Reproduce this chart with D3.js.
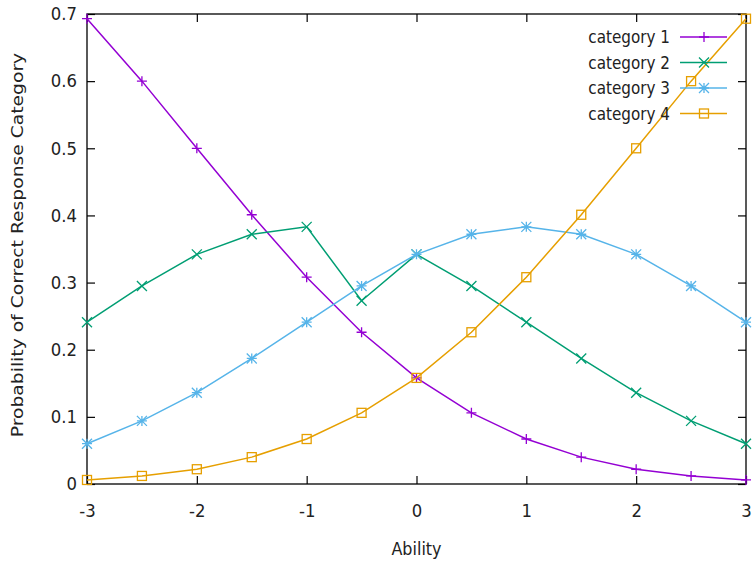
<!DOCTYPE html>
<html>
<head>
<meta charset="utf-8">
<script src="https://cdn.jsdelivr.net/npm/d3@7"></script>
<style>
  body { margin: 0; background: #fff; }
  text { font-family: "DejaVu Sans", sans-serif; fill: #222; }
</style>
</head>
<body>
<svg id="chart"></svg>
<script>
const ability = [-3, -2.5, -2, -1.5, -1, -0.5, 0, 0.5, 1, 1.5, 2, 2.5, 3];
const cat1 = [0.693, 0.600, 0.500, 0.401, 0.308, 0.226, 0.158, 0.106, 0.067, 0.040, 0.022, 0.012, 0.006];
const cat2 = [0.241, 0.295, 0.342, 0.372, 0.383, 0.273, 0.342, 0.295, 0.241, 0.187, 0.136, 0.094, 0.060];
const cat3 = [0.060, 0.094, 0.136, 0.187, 0.241, 0.295, 0.342, 0.372, 0.383, 0.372, 0.342, 0.295, 0.241];
const cat4 = [0.006, 0.012, 0.022, 0.040, 0.067, 0.106, 0.158, 0.226, 0.308, 0.401, 0.500, 0.600, 0.693];
const seriesNames = ['category 1', 'category 2', 'category 3', 'category 4'];
const xTicks = [-3, -2, -1, 0, 1, 2, 3];
const yTicks = [0, 0.1, 0.2, 0.3, 0.4, 0.5, 0.6, 0.7];

const series = [cat1, cat2, cat3, cat4];
const colors = ['#9400d3', '#009e73', '#56b4e9', '#e69f00'];
const markers = ['plus', 'cross', 'star', 'square'];

const svgWidth = 756;
const svgHeight = 565;
const margin = { top: 14, right: 10, bottom: 81, left: 87 };
const width = svgWidth - margin.left - margin.right;
const height = svgHeight - margin.top - margin.bottom;
const stretchY = 1.1;

const x = d3.scaleLinear().domain([-3, 3]).range([0, width]);
const y = d3.scaleLinear().domain([0, 0.7]).range([height, 0]);

const svg = d3.select('#chart')
    .attr('width', svgWidth)
    .attr('height', svgHeight)
    .append('g')
    .attr('transform', `translate(${margin.left}, ${margin.top})`);

// the reference text is a little taller than it is wide
function stretch(sel) {
    sel.each(function () {
        const t = d3.select(this);
        const tx = +t.attr('x') || 0;
        const ty = +t.attr('y') || 0;
        t.attr('x', 0).attr('y', 0)
            .attr('transform', `translate(${tx}, ${ty}) scale(1, ${stretchY})`);
    });
}

svg.append('rect')
    .attr('width', width)
    .attr('height', height)
    .attr('fill', 'none')
    .attr('stroke', '#000')
    .attr('stroke-width', 1.3);

// ticks point inwards, mirrored on top and right
const tickLen = 8;
svg.append('g')
    .attr('transform', `translate(0, ${height})`)
    .call(d3.axisBottom(x).tickValues(xTicks).tickSize(-tickLen).tickPadding(20).tickFormat(d => String(d)))
    .call(g => g.select('.domain').remove())
    .call(g => g.selectAll('text').attr('font-size', 16.5).attr('font-family', '"DejaVu Sans", sans-serif').call(stretch));
svg.append('g')
    .call(d3.axisTop(x).tickValues(xTicks).tickSize(-tickLen).tickFormat(''))
    .call(g => g.select('.domain').remove());
svg.append('g')
    .call(d3.axisLeft(y).tickValues(yTicks).tickSize(-tickLen).tickPadding(10).tickFormat(d => String(d)))
    .call(g => g.select('.domain').remove())
    .call(g => g.selectAll('text').attr('font-size', 16.5).attr('font-family', '"DejaVu Sans", sans-serif').call(stretch));
svg.append('g')
    .attr('transform', `translate(${width}, 0)`)
    .call(d3.axisRight(y).tickValues(yTicks).tickSize(-tickLen).tickFormat(''))
    .call(g => g.select('.domain').remove());
svg.selectAll('.tick line').attr('stroke', '#000').attr('stroke-width', 1.2);

svg.append('text')
    .attr('x', width / 2)
    .attr('y', height + 71)
    .attr('text-anchor', 'middle')
    .attr('font-size', 16)
    .text('Ability')
    .call(stretch);
svg.append('text')
    .attr('transform', `translate(-64, ${height / 2 - 4}) rotate(-90) scale(1.17, 1)`)
    .attr('text-anchor', 'middle')
    .attr('font-size', 16)
    .text('Probability of Correct Response Category');

function drawMarker(g, type, color) {
    const s = 5;
    if (type === 'plus') {
        g.append('path').attr('d', `M${-s},0H${s}M0,${-s}V${s}`);
    } else if (type === 'cross') {
        g.append('path').attr('d', `M${-s},${-s}L${s},${s}M${-s},${s}L${s},${-s}`);
    } else if (type === 'star') {
        g.append('path').attr('d', `M${-s},0H${s}M0,${-s}V${s}M${-s},${-s}L${s},${s}M${-s},${s}L${s},${-s}`);
    } else {
        const q = 4.5;
        g.append('rect').attr('x', -q).attr('y', -q).attr('width', 2 * q).attr('height', 2 * q).attr('fill', 'none');
    }
    g.selectAll('path, rect').attr('stroke', color).attr('stroke-width', 1.3);
}

const line = d3.line().x((d, i) => x(ability[i])).y(d => y(d));

const plot = svg.append('g');
series.forEach((vals, k) => {
    plot.append('path')
        .attr('d', line(vals))
        .attr('fill', 'none')
        .attr('stroke', colors[k])
        .attr('stroke-width', 1.5);
    vals.forEach((v, i) => {
        const g = plot.append('g').attr('transform', `translate(${x(ability[i])}, ${y(v)})`);
        drawMarker(g, markers[k], colors[k]);
    });
});

// legend
const legend = svg.append('g').attr('transform', `translate(${width - 66}, 23)`);
seriesNames.forEach((name, k) => {
    const row = legend.append('g').attr('transform', `translate(0, ${k * 25.5})`);
    row.append('text')
        .attr('transform', `translate(-10, 0) scale(0.95, ${stretchY})`)
        .attr('dy', '0.35em')
        .attr('text-anchor', 'end')
        .attr('font-size', 16)
        .text(name);
    row.append('line')
        .attr('x1', 0).attr('x2', 47)
        .attr('stroke', colors[k])
        .attr('stroke-width', 1.5);
    const m = row.append('g').attr('transform', 'translate(24, 0)');
    drawMarker(m, markers[k], colors[k]);
});
</script>
</body>
</html>
